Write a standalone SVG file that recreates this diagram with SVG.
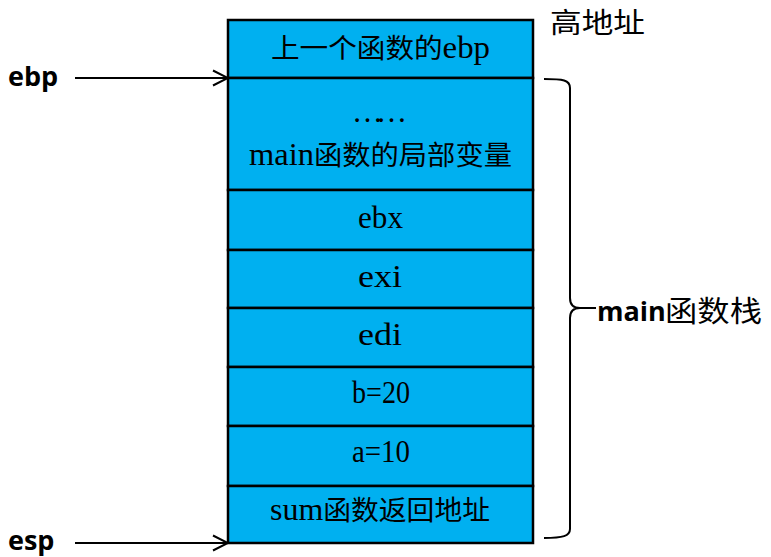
<svg xmlns="http://www.w3.org/2000/svg" width="771" height="557" viewBox="0 0 771 557">
<defs>
<style>
.cell{fill:#00B0F0;stroke:#000;stroke-width:2.5}
.t{font-family:'Liberation Serif','DejaVu Serif',serif;font-size:31px;fill:#000}
.c{font-family:'Noto Sans CJK SC',sans-serif;font-size:27px}
.lbl{font-family:'Open Sans','Liberation Sans',sans-serif;font-weight:bold;font-size:27px;fill:#000}
.cjk{font-family:'Noto Sans CJK SC',sans-serif;fill:#000}
.ln{fill:none;stroke:#000;stroke-width:2}
</style>
<marker id="arr" markerWidth="18" markerHeight="18" viewBox="0 0 18 18" refX="16" refY="9" orient="auto" markerUnits="userSpaceOnUse">
<path d="M1,1.5 L16,9 L1,16.5" fill="none" stroke="#000" stroke-width="2"/>
</marker>
</defs>
<rect width="771" height="557" fill="#fff"/>
<g id="cell-prev-ebp"><rect class="cell" x="228" y="20" width="305" height="58"/><text class="t" x="271" y="58" textLength="219" lengthAdjust="spacingAndGlyphs"><tspan class="c">上一个函数的</tspan>ebp</text></g>
<g id="cell-locals"><rect class="cell" x="228" y="78" width="305" height="112"/><text class="t" x="352" y="122" textLength="55" lengthAdjust="spacing">……</text><text class="t" x="249" y="165" textLength="263" lengthAdjust="spacingAndGlyphs">main<tspan class="c">函数的局部变量</tspan></text></g>
<g id="cell-ebx"><rect class="cell" x="228" y="190" width="305" height="60"/><text class="t" x="358" y="228" textLength="45" lengthAdjust="spacingAndGlyphs">ebx</text></g>
<g id="cell-exi"><rect class="cell" x="228" y="250" width="305" height="58"/><text class="t" x="358" y="287" textLength="44" lengthAdjust="spacingAndGlyphs">exi</text></g>
<g id="cell-edi"><rect class="cell" x="228" y="308" width="305" height="59"/><text class="t" x="358" y="345" textLength="44" lengthAdjust="spacingAndGlyphs">edi</text></g>
<g id="cell-b"><rect class="cell" x="228" y="367" width="305" height="59"/><text class="t" x="352" y="403" textLength="58" lengthAdjust="spacingAndGlyphs">b=20</text></g>
<g id="cell-a"><rect class="cell" x="228" y="426" width="305" height="60"/><text class="t" x="352" y="462" textLength="58" lengthAdjust="spacingAndGlyphs">a=10</text></g>
<g id="cell-ret"><rect class="cell" x="228" y="486" width="305" height="57"/><text class="t" x="270" y="520" textLength="220" lengthAdjust="spacingAndGlyphs">sum<tspan class="c">函数返回地址</tspan></text></g>
<g id="label-ebp"><text class="lbl" x="8" y="86">ebp</text></g>
<g id="label-esp"><text class="lbl" x="8" y="550">esp</text></g>
<g id="label-high"><text class="cjk" x="550" y="33" font-size="28" textLength="95" lengthAdjust="spacingAndGlyphs">高地址</text></g>
<g id="label-main-stack"><text class="lbl" x="597" y="321">main</text><text class="cjk" x="665" y="322" font-size="29" textLength="97" lengthAdjust="spacingAndGlyphs">函数栈</text></g>
<g id="connectors">
<line class="ln" x1="75" y1="78" x2="228" y2="78" marker-end="url(#arr)"/>
<line class="ln" x1="75" y1="543" x2="228" y2="543" marker-end="url(#arr)"/>
<path class="ln" d="M544,79 C563,79 570,80 570,88 V298 C570,305 573,308 580,308 H596 M580,308 C573,308 570,311 570,318 V529 C570,536 563,538 544,538"/>
</g>
</svg>
